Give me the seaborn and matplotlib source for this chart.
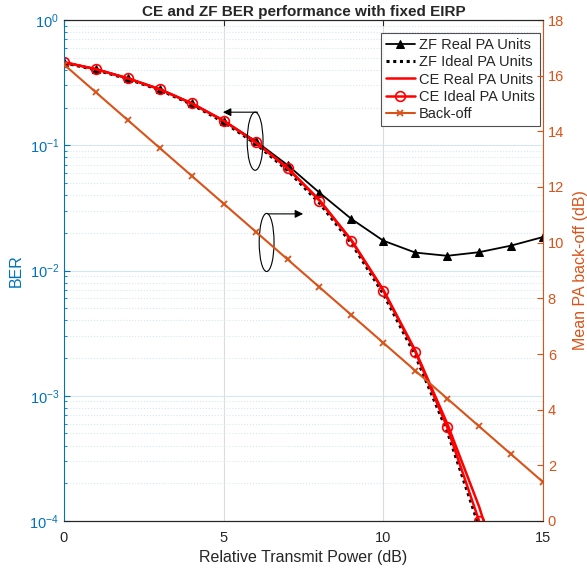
import numpy as np
import matplotlib
matplotlib.use('Agg')
import matplotlib.pyplot as plt
import seaborn as sns
from matplotlib.patches import Ellipse
from matplotlib.ticker import LogLocator

# relative transmit power (dB)
tx_power = list(range(16))

zf_real = [0.46, 0.405, 0.342, 0.28, 0.216, 0.157, 0.108, 0.0695, 0.0418, 0.0258,
           0.0173, 0.0139, 0.0131, 0.0140, 0.0158, 0.0185]
zf_ideal = [0.455, 0.40, 0.338, 0.276, 0.212, 0.153, 0.103, 0.063, 0.0345, 0.0165,
            0.0065, 0.0021, 0.00052, 0.00009, np.nan, np.nan]
ce_real = [0.46, 0.405, 0.342, 0.28, 0.216, 0.157, 0.106, 0.066, 0.0365, 0.0175,
           0.0070, 0.0023, 0.00060, 0.00013, 0.00002, np.nan]
ce_ideal = [0.46, 0.405, 0.342, 0.28, 0.216, 0.157, 0.1055, 0.0655, 0.0361, 0.0173,
            0.0069, 0.00225, 0.00056, 0.0001, np.nan, np.nan]
backoff = [16.4, 15.4, 14.4, 13.4, 12.4, 11.4, 10.4, 9.4, 8.4, 7.4,
           6.4, 5.4, 4.4, 3.4, 2.4, 1.4]

blue = '#0072BD'
orange = '#D95319'
dark = '#262626'

sns.set_style('white')
plt.rcParams['font.family'] = ['Liberation Sans', 'DejaVu Sans']
plt.rcParams['mathtext.default'] = 'regular'

fig = plt.figure(figsize=(5.87, 5.74), dpi=100)
ax = fig.add_axes([64 / 587, 1 - 521 / 574, 479 / 587, 501 / 574])
ax2 = ax.twinx()

ax.set_yscale('log')
ax.set_xlim(0, 15)
ax.set_ylim(1e-4, 1)
ax2.set_ylim(0, 18)

# grid like matlab
ax.yaxis.set_minor_locator(LogLocator(base=10, subs=np.arange(2, 10)))
ax.set_xticks([0, 5, 10, 15])
ax.grid(True, which='major', axis='x', color='#dcdcdc', lw=0.8)
ax.grid(True, which='major', axis='y', color='#d6e6f3', lw=0.8)
ax.grid(True, which='minor', axis='y', color='#d6e6f3', lw=0.8, ls=':')
ax.set_axisbelow(True)

sns.lineplot(x=tx_power, y=zf_real, ax=ax, color='black', lw=1.3, marker='^',
             markersize=6, markeredgecolor='black', label='ZF Real PA Units')
sns.lineplot(x=tx_power, y=zf_ideal, ax=ax, color='black', lw=2.2, ls=(0, (1, 1.2)),
             label='ZF Ideal PA Units')
sns.lineplot(x=tx_power, y=ce_real, ax=ax, color='red', lw=1.8, label='CE Real PA Units')
sns.lineplot(x=tx_power, y=ce_ideal, ax=ax, color='red', lw=1.8, marker='o',
             markersize=7, markerfacecolor='none', markeredgecolor='red',
             markeredgewidth=1.2, label='CE Ideal PA Units')
sns.lineplot(x=tx_power, y=backoff, ax=ax2, color=orange, lw=1.5, marker='x',
             markersize=5, markeredgecolor=orange, markeredgewidth=1.3, label='Back-off')

h1, l1 = ax.get_legend_handles_labels()
h2, l2 = ax2.get_legend_handles_labels()
if ax2.get_legend():
    ax2.get_legend().remove()
leg = ax.legend(h1 + h2, l1 + l2, loc='upper right', bbox_to_anchor=(0.994, 0.974),
                fontsize=10.5, frameon=True, fancybox=False, edgecolor=dark,
                borderpad=0.35, labelspacing=0.22, handlelength=2.0,
                handletextpad=0.3, borderaxespad=0)
leg.get_frame().set_linewidth(0.8)
leg.set_zorder(10)

# annotations: ellipses with arrows
tr = ax.transAxes
ax.add_patch(Ellipse((0.399, 0.758), 0.033, 0.116, transform=tr, fill=False,
                     ec='black', lw=0.8, zorder=6))
ax.annotate('', xy=(0.326, 0.816), xytext=(0.41, 0.816), xycoords=tr, textcoords=tr,
            arrowprops=dict(arrowstyle='-|>', color='black', lw=0.8, mutation_scale=12))
ax.add_patch(Ellipse((0.423, 0.556), 0.031, 0.116, transform=tr, fill=False,
                     ec='black', lw=0.8, zorder=6))
ax.annotate('', xy=(0.505, 0.613), xytext=(0.42, 0.613), xycoords=tr, textcoords=tr,
            arrowprops=dict(arrowstyle='-|>', color='black', lw=0.8, mutation_scale=12))

ax2.set_yticks(range(0, 19, 2))

for a in (ax, ax2):
    a.tick_params(which='both', direction='in', labelsize=10.5)
    for s in a.spines.values():
        s.set_linewidth(0.8)
    a.spines['top'].set_color(dark)
    a.spines['bottom'].set_color(dark)
ax.tick_params(which='major', length=4)
ax.tick_params(which='minor', length=2)
ax.tick_params(axis='x', colors=dark, top=True, pad=7)
ax.tick_params(axis='y', which='both', colors=blue, right=False)
ax.spines['left'].set_color(blue)
ax.spines['right'].set_visible(False)
ax2.spines['right'].set_color(orange)
ax2.spines['left'].set_visible(False)
ax2.tick_params(axis='y', colors=orange, length=4)
ax2.tick_params(axis='x', colors=dark)

ax.set_xlabel('Relative Transmit Power (dB)', fontsize=11.5, color=dark, labelpad=4)
ax.set_ylabel('BER', fontsize=11.5, color=blue, labelpad=4)
ax2.set_ylabel('Mean PA back-off (dB)', fontsize=11.5, color=orange, labelpad=6)
ax.set_title('CE and ZF BER performance with fixed EIRP', fontsize=11, fontweight='bold',
             pad=3)

fig.savefig('out.png', dpi=100)
